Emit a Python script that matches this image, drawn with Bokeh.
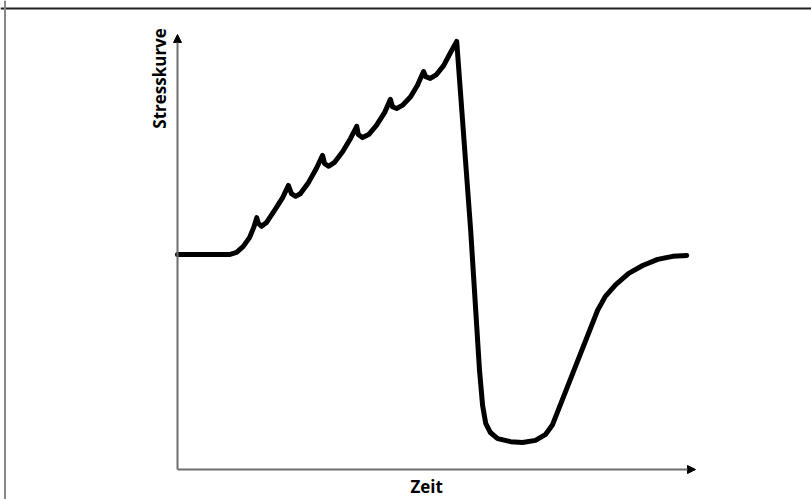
from bokeh.plotting import figure
from bokeh.models import Range1d, Arrow, NormalHead, Label, Span
from bokeh.embed import file_html
from bokeh.resources import INLINE

# Stress curve (time in %, stress in % of axis height)
time = [0.0, 10.0, 11.4, 12.7, 13.9, 14.7, 15.3, 15.6, 16.2, 17.2, 18.7, 20.3,
        21.4, 22.0, 22.8, 23.7, 25.3, 26.8, 28.0, 28.4, 29.2, 30.3, 31.9, 33.4,
        34.6, 34.9, 35.7, 36.9, 38.4, 40.0, 41.1, 41.5, 42.3, 43.4, 45.0, 46.3,
        47.5, 47.9, 48.8, 50.0, 51.4, 52.5, 53.9, 56.6, 58.3, 58.9, 59.5, 60.4,
        61.8, 64.3, 66.6, 69.1, 71.0, 72.4, 81.1, 82.6, 84.6, 87.1, 89.8, 92.7,
        95.6, 98.3]
stress = [49.4, 49.4, 49.9, 51.3, 53.3, 55.6, 57.9, 56.6, 55.9, 56.8, 59.5, 62.5,
          65.3, 63.4, 62.8, 63.4, 66.0, 69.2, 72.2, 70.3, 69.7, 70.6, 73.1, 76.1,
          78.9, 77.0, 76.3, 77.0, 79.1, 82.1, 85.1, 83.4, 83.0, 83.7, 85.7, 88.3,
          91.5, 90.3, 89.9, 90.8, 92.9, 95.4, 98.4, 54.9, 22.8, 14.7, 10.6, 8.5,
          7.1, 6.4, 6.2, 6.7, 8.0, 10.3, 36.6, 39.8, 42.5, 45.1, 46.9, 48.3,
          49.0, 49.2]

x_label = "Zeit"
y_label = "Stresskurve"

p = figure(width=811, height=499, output_backend="svg", toolbar_location=None,
           x_range=Range1d(-34.17, 122.39), y_range=Range1d(-6.9, 107.82),
           min_border=0, min_border_left=0, min_border_right=0,
           min_border_top=0, min_border_bottom=0)
p.axis.visible = False
p.grid.visible = False
p.outline_line_color = None
p.background_fill_color = "white"
p.border_fill_color = "white"

# page frame lines (top and left)
p.add_layout(Span(location=106.0, dimension="width", line_color="#222222", line_width=2))
p.add_layout(Span(location=-33.3, dimension="height", line_color="#888888", line_width=2))

# axes with arrow heads
p.add_layout(Arrow(x_start=0, y_start=0, x_end=0, y_end=100,
                   line_color="#6e6e6e", line_width=2,
                   end=NormalHead(size=8, fill_color="black", line_color="black", line_width=1)))
p.add_layout(Arrow(x_start=0, y_start=0, x_end=100, y_end=0,
                   line_color="#6e6e6e", line_width=2,
                   end=NormalHead(size=8, fill_color="black", line_color="black", line_width=1)))

p.line(time, stress, line_color="black", line_width=5, line_join="round", line_cap="round")

p.add_layout(Label(x=48.1, y=-3.9, text=x_label, text_font="Open Sans",
                   text_font_style="bold", text_font_size="17px", text_color="black",
                   text_align="center", text_baseline="middle"))
p.add_layout(Label(x=-3.57, y=89.9, text=y_label, angle=1.5708, text_font="Open Sans",
                   text_font_style="bold", text_font_size="17px", text_color="black",
                   text_align="center", text_baseline="middle"))

open("out.html", "w").write(file_html(p, INLINE))
